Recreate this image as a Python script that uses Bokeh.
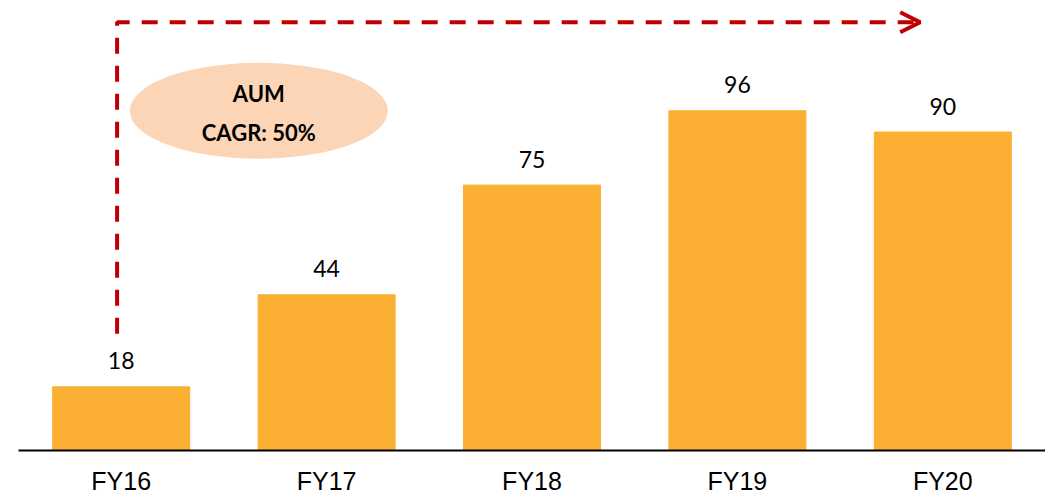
from bokeh.plotting import figure
from bokeh.models import FactorRange, Range1d, ColumnDataSource, Arrow, OpenHead
from bokeh.core.properties import value
from bokeh.embed import file_html
from bokeh.resources import INLINE

# Data
years = ["FY16", "FY17", "FY18", "FY19", "FY20"]
aum = [18, 44, 75, 96, 90]
labels = ["18", "44", "75", "96", "90"]

# Annotation values (data units)
arrow_x_start = 0.48   # synthetic categorical coordinate
arrow_x_end = 4.39
arrow_y_bottom = 33
arrow_y_top = 121
bubble_x = 1.17
bubble_y = 96
bubble_lines = ["AUM", "CAGR: 50%"]

bar_color = "#FBB034"
red = "#C00000"

p = figure(x_range=FactorRange(factors=years), y_range=Range1d(0, 124.9),
           frame_width=1027, frame_height=442, min_border_left=18,
           min_border_right=0, min_border_top=8, min_border_bottom=40,
           output_backend="svg", toolbar_location=None)

src = ColumnDataSource(dict(x=years, top=aum, label=labels))
p.vbar(x="x", top="top", width=0.667, source=src, color=bar_color)
p.text(x="x", y="top", text="label", source=src, y_offset=-26,
       text_align="center", text_baseline="middle",
       text_font=value("Lato"), text_font_size="23px", text_color="#000000")

# dashed arrow
p.line(x=[arrow_x_start, arrow_x_start, arrow_x_end - 0.02],
       y=[arrow_y_bottom, arrow_y_top, arrow_y_top],
       line_color=red, line_width=4, line_dash="16 12", line_cap="butt")
p.add_layout(Arrow(end=OpenHead(size=20, line_color=red, line_width=4),
                   x_start=arrow_x_end - 0.1, y_start=arrow_y_top,
                   x_end=arrow_x_end, y_end=arrow_y_top,
                   line_alpha=0))

# bubble
p.ellipse(x=[bubble_x], y=[bubble_y], width=258, height=96,
          width_units="screen", height_units="screen",
          fill_color="#FBD5B5", line_color=None)
p.text(x=[bubble_x, bubble_x], y=[bubble_y, bubble_y], text=bubble_lines,
       y_offset=[-17, 22], text_align="center", text_baseline="middle",
       text_font=value("Lato"), text_font_style="bold", text_font_size="22px",
       text_color="#000000")

p.yaxis.visible = False
p.xgrid.visible = False
p.ygrid.visible = False
p.outline_line_color = None
p.xaxis.axis_line_color = "#000000"
p.xaxis.axis_line_width = 2
p.xaxis.major_tick_line_color = None
p.xaxis.minor_tick_line_color = None
p.xaxis.major_label_standoff = 10
p.xaxis.major_label_text_font = "Liberation Sans"
p.xaxis.major_label_text_font_size = "25px"
p.xaxis.major_label_text_color = "#000000"

open("out.html", "w").write(file_html(p, INLINE))
